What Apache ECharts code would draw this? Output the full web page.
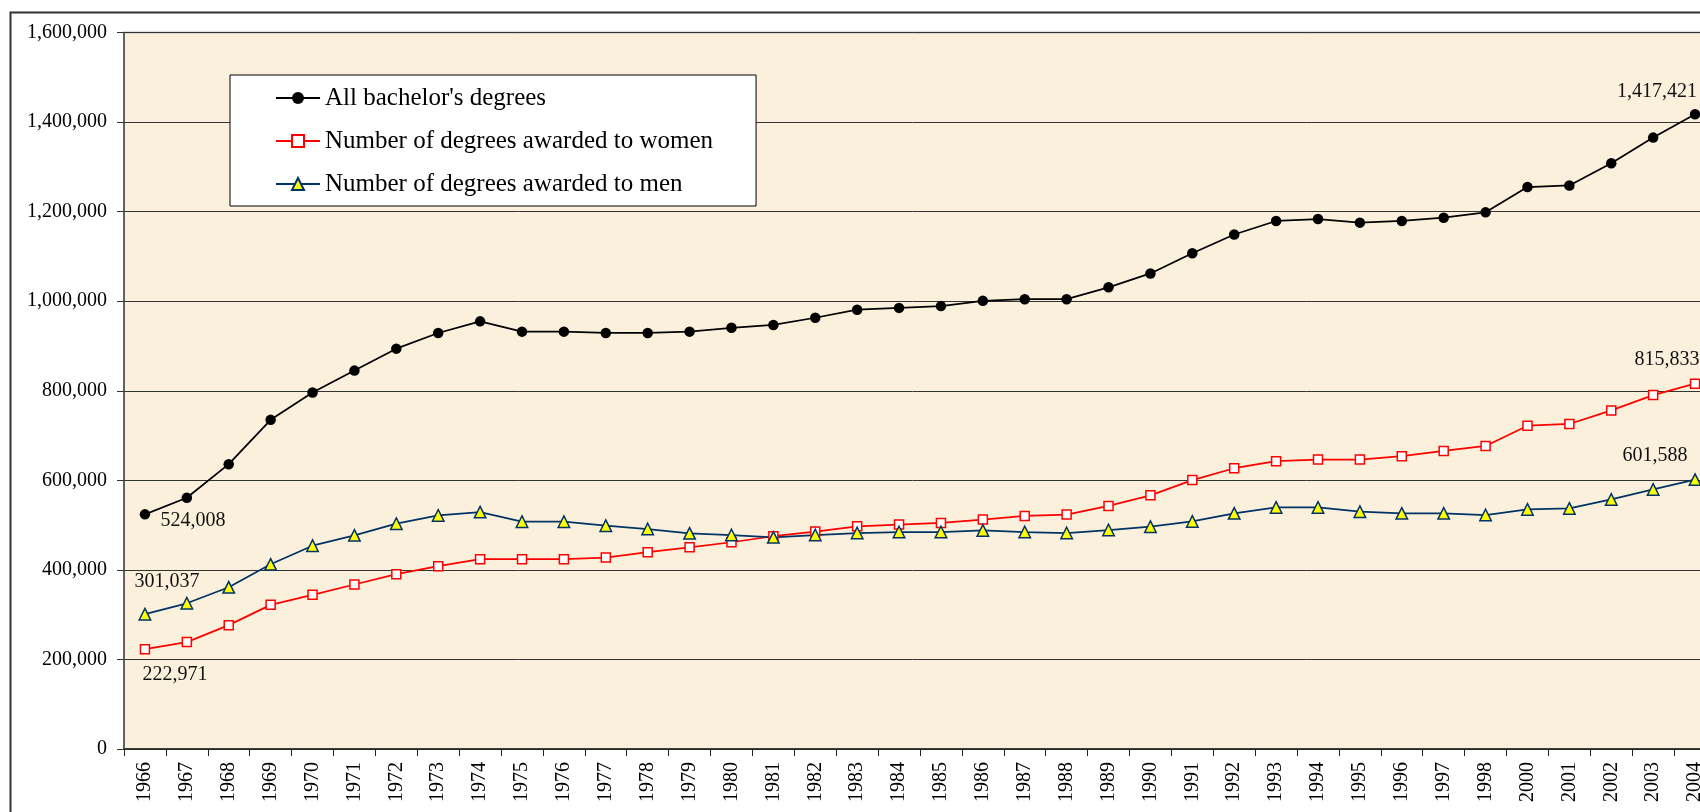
<!DOCTYPE html>
<html>
<head>
<meta charset="utf-8">
<script src="https://cdn.jsdelivr.net/npm/echarts@6/dist/echarts.min.js"></script>
<style>
  html, body { margin: 0; padding: 0; background: #fff; }
  #chart { width: 1700px; height: 812px; }
</style>
</head>
<body>
<div id="chart"></div>
<script>
const years = ['1966', '1967', '1968', '1969', '1970', '1971', '1972', '1973', '1974', '1975',
  '1976', '1977', '1978', '1979', '1980', '1981', '1982', '1983', '1984', '1985',
  '1986', '1987', '1988', '1989', '1990', '1991', '1992', '1993', '1994', '1995',
  '1996', '1997', '1998', '2000', '2001', '2002', '2003', '2004'];

const allDegrees = [524008, 561000, 636000, 735000, 796000, 845000, 894000, 929000, 955000, 932000,
  932000, 929000, 929000, 932000, 940500, 947000, 963000, 981000, 985000, 989000,
  1000700, 1004500, 1004500, 1031000, 1062000, 1107000, 1149000, 1179100, 1183500, 1175400,
  1179100, 1186500, 1198400, 1254800, 1258500, 1308200, 1365300, 1417421];

const women = [222971, 238700, 276600, 321900, 344200, 367300, 390300, 408200, 423800, 423800,
  423800, 427500, 439400, 450500, 461700, 475100, 485500, 497400, 501100, 504800,
  512300, 520400, 523400, 542700, 566500, 600500, 627000, 642600, 646400, 646400,
  653800, 665600, 676800, 722000, 725800, 756100, 790300, 815833];

const men = [301037, 325400, 361100, 412400, 454000, 477100, 503100, 521700, 529100, 507600,
  507600, 498700, 491200, 481600, 477800, 472600, 477800, 482300, 484500, 484500,
  488200, 484500, 482300, 489000, 496400, 508300, 526200, 539500, 539500, 529900,
  526200, 526200, 522500, 535100, 537300, 557300, 579600, 601588];

const yTicks = { min: 0, max: 1600000, interval: 200000 };

const serif = 'Liberation Serif';
const fmt = function (v) { return Number(v).toLocaleString('en-US'); };

// only first and last points get a value label
function withEndLabels(values, firstOffset, lastOffset) {
  return values.map(function (v, i) {
    if (i === 0 || i === values.length - 1) {
      return {
        value: v,
        label: {
          show: true,
          position: 'inside',
          align: 'center',
          verticalAlign: 'middle',
          offset: i === 0 ? firstOffset : lastOffset,
          formatter: function (p) { return fmt(p.value); },
          color: '#111',
          fontFamily: serif,
          fontSize: 20,
        },
      };
    }
    return v;
  });
}

const chart = echarts.init(document.getElementById('chart'));

const option = {
  animation: false,
  backgroundColor: '#fff',
  graphic: [
    {
      type: 'rect',
      left: 8,
      top: 10,
      shape: { width: 1800, height: 900 },
      style: { fill: 'none', stroke: '#333', lineWidth: 2 },
      z: -1,
    },
  ],
  grid: {
    left: 124,
    top: 32.5,
    width: 1592,
    height: 716.5,
    show: true,
    backgroundColor: '#FBF0DC',
    borderColor: '#888',
    borderWidth: 1.5,
    outerBoundsMode: 'none',
  },
  legend: {
    left: 230,
    top: 75,
    orient: 'vertical',
    padding: [9, 43, 8, 45],
    backgroundColor: '#fff',
    borderColor: '#000',
    borderWidth: 1,
    borderRadius: 0,
    itemWidth: 44,
    itemHeight: 15,
    itemGap: 15,
    textStyle: { fontFamily: serif, fontSize: 25, color: '#000', lineHeight: 28 },
    data: ["All bachelor's degrees", 'Number of degrees awarded to women', 'Number of degrees awarded to men'],
  },
  xAxis: {
    type: 'category',
    data: years,
    boundaryGap: true,
    axisLine: { show: true, lineStyle: { color: '#222', width: 1.5 } },
    axisTick: { show: true, inside: false, length: 7, alignWithLabel: false, interval: 0, lineStyle: { color: '#222' } },
    axisLabel: {
      interval: 0,
      rotate: 90,
      margin: 13,
      fontFamily: serif,
      fontSize: 20,
      color: '#000',
    },
    splitLine: { show: false },
  },
  yAxis: {
    type: 'value',
    min: yTicks.min,
    max: yTicks.max,
    interval: yTicks.interval,
    axisLine: { show: true, lineStyle: { color: '#4d4d4d', width: 1.5 } },
    axisTick: { show: true, inside: false, length: 7, lineStyle: { color: '#333' } },
    axisLabel: {
      margin: 17,
      fontFamily: serif,
      fontSize: 20,
      color: '#000',
      formatter: fmt,
    },
    splitLine: { show: true, lineStyle: { color: '#333', width: 1 } },
  },
  series: [
    {
      name: "All bachelor's degrees",
      type: 'line',
      data: withEndLabels(allDegrees, [48, 6], [-38, -23]),
      symbol: 'circle',
      symbolSize: 10.5,
      showAllSymbol: true,
      lineStyle: { color: '#000', width: 1.75 },
      itemStyle: { color: '#000', borderColor: '#000', borderWidth: 0 },
      z: 3,
    },
    {
      name: 'Number of degrees awarded to women',
      type: 'line',
      data: withEndLabels(women, [30, 26], [-28, -24]),
      symbol: 'rect',
      symbolSize: 9,
      showAllSymbol: true,
      lineStyle: { color: '#FF0000', width: 1.75 },
      itemStyle: { color: '#fff', borderColor: '#FF0000', borderWidth: 1.5 },
      z: 2,
    },
    {
      name: 'Number of degrees awarded to men',
      type: 'line',
      data: withEndLabels(men, [22, -32], [-40, -24]),
      symbol: 'triangle',
      symbolSize: 11.5,
      showAllSymbol: true,
      lineStyle: { color: '#003366', width: 1.75 },
      itemStyle: { color: '#FFFF00', borderColor: '#003366', borderWidth: 1.5 },
      z: 2,
    },
  ],
};

chart.setOption(option);
</script>
</body>
</html>
